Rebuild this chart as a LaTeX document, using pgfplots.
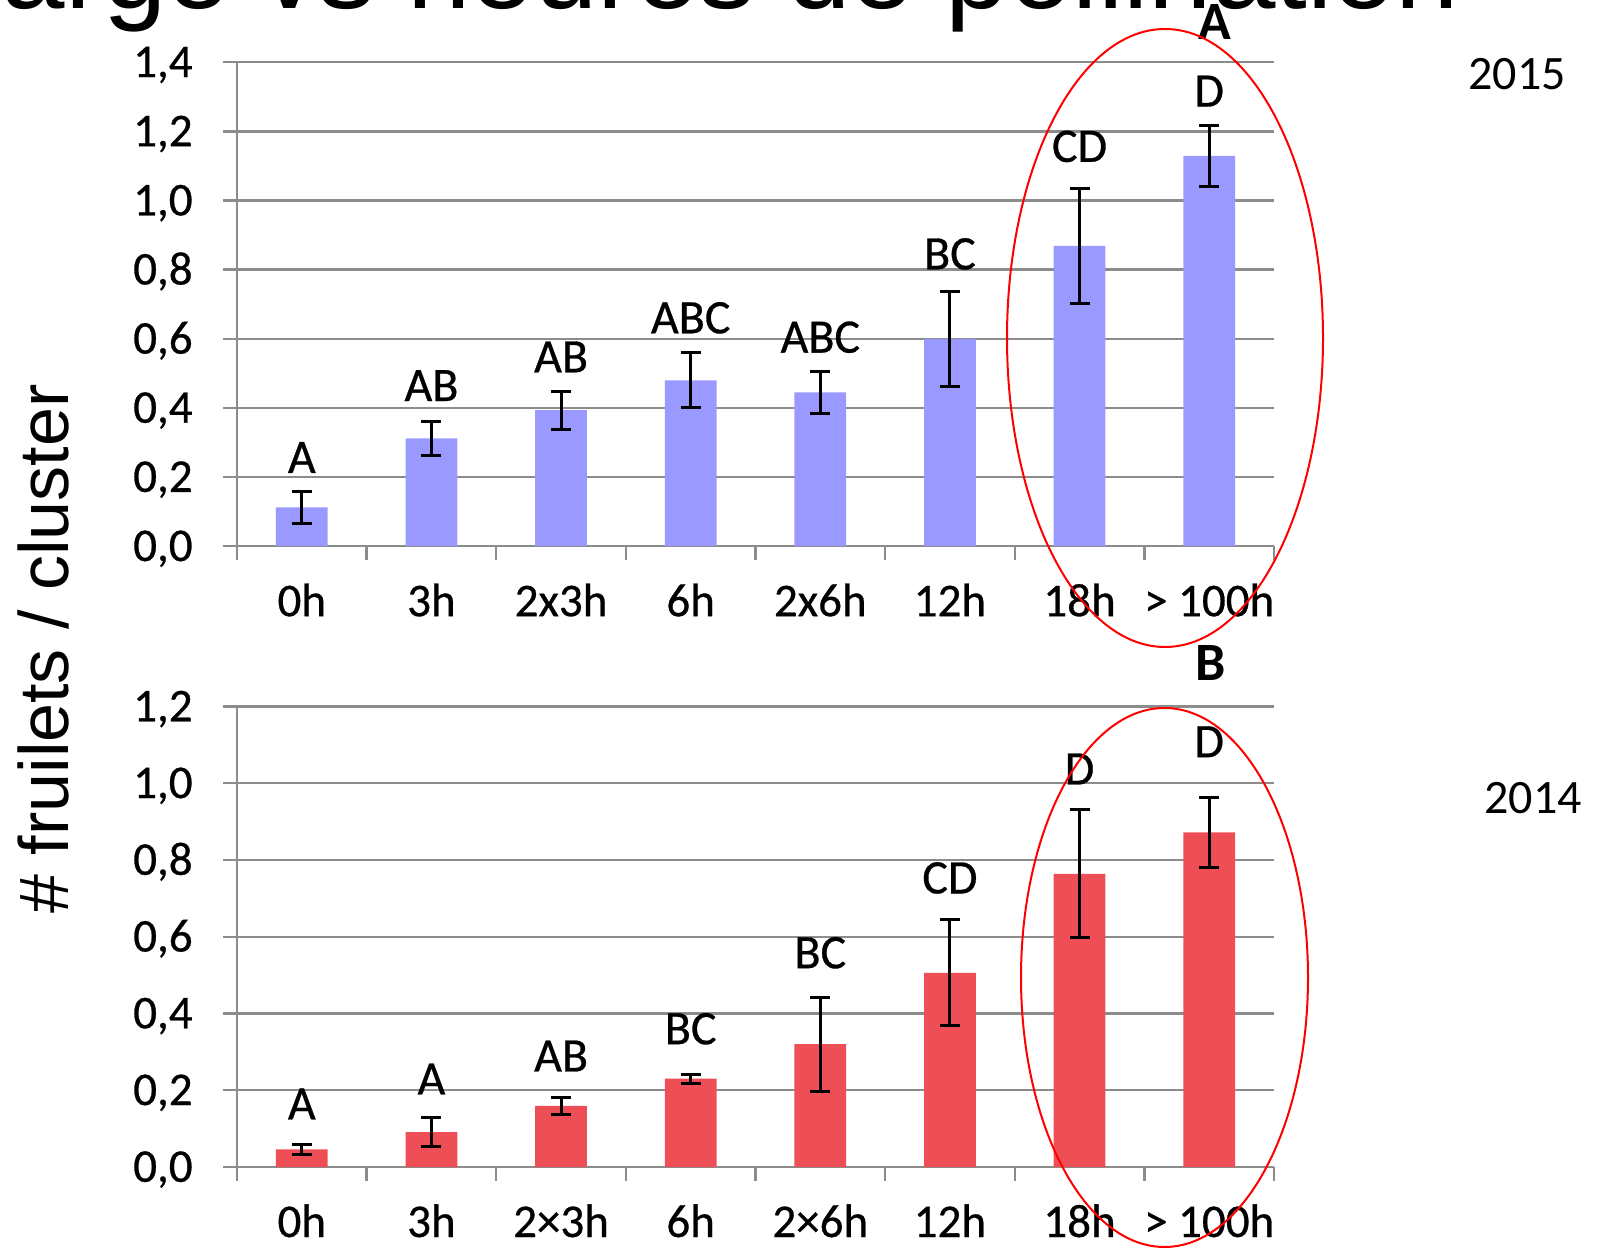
\documentclass[border=0pt]{standalone}
\usepackage{pgfplots}
\pgfplotsset{compat=1.18}
\usepackage{pgfplotstable}
\usepackage{fontspec}
\setmainfont{Carlito}
\newfontfamily\calmed{Carlito}[FakeBold=0.6]
\newfontfamily\arialfont{Liberation Sans}
\definecolor{barblue}{RGB}{153,153,255}
\definecolor{barred}{RGB}{238,79,86}
\definecolor{gridgray}{RGB}{140,140,140}

\pgfplotstableread{
x y e ly lab
0 0.112 0.045 0.212 A
1 0.312 0.049 0.420 AB
2 0.394 0.055 0.503 AB
3 0.480 0.080 0.616 ABC
4 0.445 0.060 0.560 ABC
5 0.600 0.137 0.801 BC
6 0.869 0.166 1.112 CD
7 1.129 0.087 1.272 D
}\topdata

\pgfplotstableread{
x y e ly lab
0 0.046 0.013 0.124 A
1 0.091 0.037 0.189 A
2 0.159 0.022 0.249 AB
3 0.230 0.012 0.320 BC
4 0.320 0.122 0.518 BC
5 0.506 0.138 0.713 CD
6 0.764 0.167 0.997 D
7 0.872 0.092 1.068 D
}\botdata

\pgfplotsset{
  mychart/.style={
    scale only axis, width=518.5pt,
    xmin=-0.5, xmax=7.5, ymin=0,
    axis lines=left,
    axis line style={-, gridgray, line width=1.2pt},
    xtick={0,...,7},
    minor xtick={-0.5,0.5,...,7.5},
    major x tick style={draw=none},
    minor x tick style={gridgray, line width=1.2pt},
    minor tick length=7pt, major tick length=7pt,
    tick align=outside,
    ytick style={gridgray, line width=1.2pt},
    ymajorgrids,
    major grid style={gridgray, line width=1.2pt},
    tick label style={font=\calmed\fontsize{23.5}{27}\selectfont, text=black},
    yticklabel={\pgfmathprintnumber[fixed,fixed zerofill,precision=1,use comma,assume math mode=true]{\tick}},
    yticklabel style={anchor=base east, inner sep=0pt, xshift=-15pt, yshift=-7.4pt},
    xticklabel style={anchor=base, inner sep=0pt, yshift=-28pt},
  },
  mybars/.style={
    ybar, bar width=0.4, bar shift=0pt, draw=none, fill=#1,
    error bars/.cd, y dir=both, y explicit,
    error bar style={black, line width=1.5pt},
    error mark=-,
    error mark options={rotate=90, black, mark size=5pt, line width=1.5pt},
  },
  mylabels/.style={
    draw=none, mark=none, nodes near coords, point meta=explicit symbolic,
    nodes near coords style={anchor=base, inner sep=0pt, font=\calmed\fontsize{24}{28}\selectfont, text=black},
  },
}

\begin{document}
\begin{tikzpicture}
\path[use as bounding box] (0,0) rectangle (800.5pt,624pt);

% top chart (2015)
\begin{axis}[mychart, at={(118.5pt,350.9pt)}, anchor=south west,
  height=241.95pt, ymax=1.4,
  ytick={0,0.2,0.4,0.6,0.8,1.0,1.2,1.4},
  xticklabels={0h,3h,2x3h,6h,2x6h,12h,18h,{> 100h}}]
\addplot[mybars=barblue] table[x=x, y=y, y error=e] {\topdata};
\addplot[mylabels] table[x=x, y=ly, meta=lab] {\topdata};
\end{axis}

% bottom chart (2014)
\begin{axis}[mychart, at={(118.5pt,40.5pt)}, anchor=south west,
  height=230.25pt, ymax=1.2,
  ytick={0,0.2,0.4,0.6,0.8,1.0,1.2},
  xticklabels={0h,3h,2×3h,6h,2×6h,12h,18h,{> 100h}}]
\addplot[mybars=barred] table[x=x, y=y, y error=e] {\botdata};
\addplot[mylabels] table[x=x, y=ly, meta=lab] {\botdata};
\end{axis}

% title (cut by the top edge)
\node[anchor=base east, inner sep=0pt, font=\arialfont\fontsize{57}{60}\selectfont] at (730pt,619.5pt) {Charge vs heures de pollination};
% y label
\node[rotate=90, anchor=base, inner sep=0pt, font=\arialfont\fontsize{35}{40}\selectfont] at (34pt,299.5pt) {\# fruilets / cluster};
% years
\node[anchor=base, inner sep=0pt, font=\fontsize{24}{28}\selectfont] at (758.5pt,579pt) {2015};
\node[anchor=base, inner sep=0pt, font=\fontsize{24}{28}\selectfont] at (766.5pt,217pt) {2014};
% panel letters
\node[anchor=base, inner sep=0pt, font=\bfseries\fontsize{27}{30}\selectfont] at (607.5pt,604pt) {A};
\node[anchor=base, inner sep=0pt, font=\bfseries\fontsize{27}{30}\selectfont] at (605.5pt,283.7pt) {B};
% red ellipses
\draw[red, line width=1pt] (582.5pt,455pt) ellipse [x radius=79pt, y radius=154.5pt];
\draw[red, line width=1pt] (582.25pt,135.25pt) ellipse [x radius=71.75pt, y radius=134.75pt];
\end{tikzpicture}
\end{document}
